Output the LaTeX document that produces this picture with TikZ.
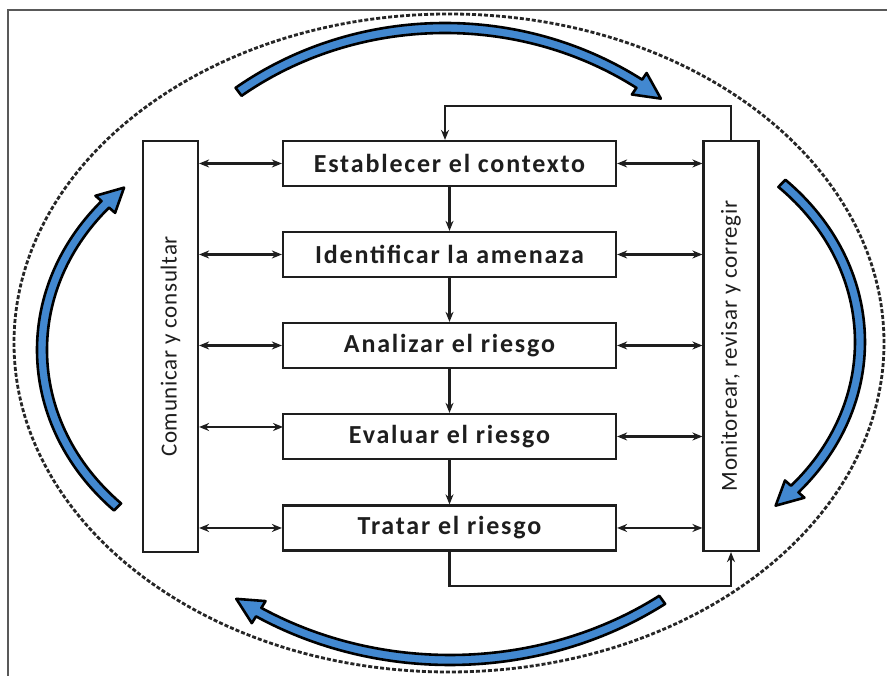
\documentclass[tikz,border=0pt]{standalone}
\usepackage{fontspec}
\setmainfont{Carlito}
\newfontfamily\boxfont[LetterSpace=7]{Carlito}
\newfontfamily\sidefont[LetterSpace=3]{Carlito}
\usetikzlibrary{arrows.meta,calc}
\definecolor{arrowblue}{RGB}{66,136,208}
\definecolor{ink}{RGB}{30,30,30}
\newcommand\bluearc[7]{%
  \begin{scope}[shift={(#1,#2)}]
    \pgfmathsetlengthmacro\rxo{#3+5}\pgfmathsetlengthmacro\ryo{#4+5}%
    \pgfmathsetlengthmacro\rxi{#3-5}\pgfmathsetlengthmacro\ryi{#4-5}%
    \pgfmathsetlengthmacro\rxh{#3+13}\pgfmathsetlengthmacro\ryh{#4+13}%
    \pgfmathsetlengthmacro\rxk{#3-13}\pgfmathsetlengthmacro\ryk{#4-13}%
    \filldraw[barrow] (#5:\rxo\space and \ryo) arc[start angle=#5, end angle=#6, x radius=\rxo, y radius=\ryo]
      -- (#6:\rxh\space and \ryh) -- (#7:#3pt and #4pt) -- (#6:\rxk\space and \ryk)
      -- (#6:\rxi\space and \ryi) arc[start angle=#6, end angle=#5, x radius=\rxi, y radius=\ryi] -- cycle;
  \end{scope}}
\begin{document}
\begin{tikzpicture}[x=1pt,y=1pt,
  barrow/.style={fill=arrowblue, draw=black, line width=2.6pt, line join=round},
  procbox/.style={draw=ink, line width=2.2pt, minimum width=333pt, minimum height=45pt, inner sep=0pt,
     font=\boxfont\fontsize{26}{28}\selectfont\bfseries, text=ink},
  sidebox/.style={draw=ink, line width=2.2pt, minimum height=55pt, inner sep=0pt,
     font=\sidefont\fontsize{23}{25}\selectfont, text=ink, rotate=90},
  conn/.style={draw=ink, line width=2.1pt},
  tip/.style={>={Stealth[length=10pt,width=8pt]}}]
\useasboundingbox (0,0) rectangle (887,676);
\fill[white] (0,0) rectangle (887,676);
% frame
\draw[gray!70!black, line width=1.2pt] (8,0) -- (8,666) -- (887,666);
% dashed ellipse
\draw[black!85, line width=2.8pt, dash pattern=on 4pt off 2pt] (449,333) ellipse [x radius=435pt, y radius=329pt];
% blue cycle arrows
\bluearc{445}{331}{343}{317}{127}{55.5}{51}
\bluearc{600}{334}{260}{222}{45.6}{-41.5}{-47.5}
\bluearc{450}{331}{361}{315}{-54}{-122}{-126.3}
\bluearc{300}{326}{258}{222}{225}{139}{133}
% boxes
\node[procbox] (b1) at (449.5,512.5) {Establecer el contexto};
\node[procbox] (b2) at (449.5,421.5) {Identificar la amenaza};
\node[procbox] (b3) at (449.5,330.5) {Analizar el riesgo};
\node[procbox] (b4) at (449.5,239.5) {Evaluar el riesgo};
\node[procbox] (b5) at (449.5,148) {Tratar el riesgo};
\node[sidebox, minimum width=411pt] (lb) at (170.5,329.5) {Comunicar y consultar};
\node[sidebox, minimum width=410pt] (rb) at (731,330) {Monitorear, revisar y corregir};
% vertical flow
\draw[conn,tip,->] (b1) -- (b2);
\draw[conn,tip,->] (b2) -- (b3);
\draw[conn,tip,->] (b3) -- (b4);
\draw[conn,tip,->] (b4) -- (b5);
% horizontal links
\draw[conn,tip,<->] (lb.south |- b1) -- (b1.west);
\draw[conn,tip,<->] (lb.south |- b2) -- (b2.west);
\draw[conn,tip,<->] (lb.south |- b3) -- (b3.west);
\coordinate (l4) at (283,249);
\draw[conn,tip,<->] (lb.south |- l4) -- (l4);
\draw[conn,tip,<->] (lb.south |- b5) -- (b5.west);
\draw[conn,tip,<->] (b1.east) -- (rb.north |- b1);
\draw[conn,tip,<->] (b2.east) -- (rb.north |- b2);
\draw[conn,tip,<->] (b3.east) -- (rb.north |- b3);
\draw[conn,tip,<->] (b4.east) -- (rb.north |- b4);
\draw[conn,tip,<->] (b5.east) -- (rb.north |- b5);
% feedback loops
\coordinate (ftop) at (445,570);
\draw[conn,tip,->] (rb.east) |- (ftop) -- (ftop |- b1.north);
\coordinate (fbot) at (731,90);
\draw[conn,tip,->] (b5.south) |- (fbot) -- (rb.west);
\end{tikzpicture}
\end{document}
